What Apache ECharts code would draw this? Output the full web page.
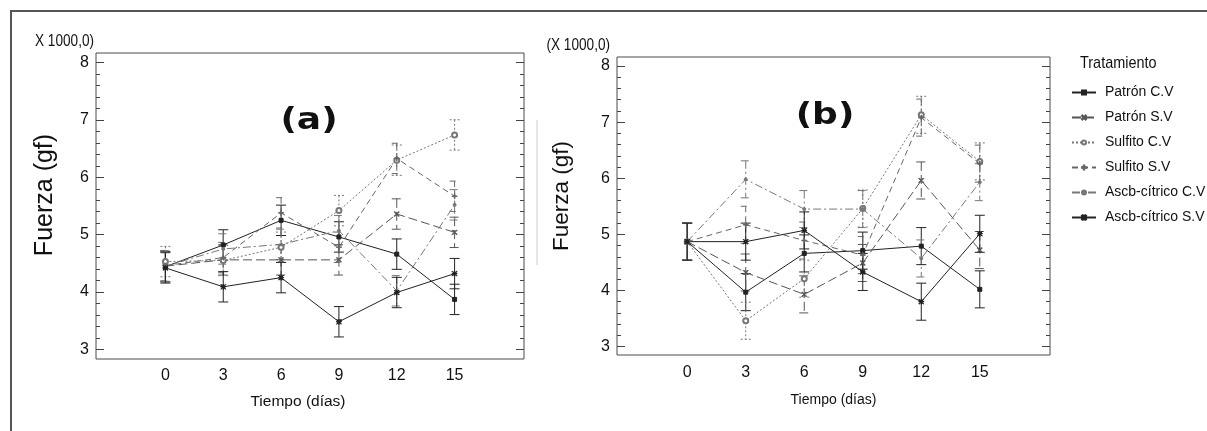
<!DOCTYPE html>
<html>
<head>
<meta charset="utf-8">
<script src="https://cdn.jsdelivr.net/npm/echarts@6/dist/echarts.min.js"></script>
<style>
  html, body { margin: 0; padding: 0; background: #fff; }
  #chart { width: 1207px; height: 431px; }
</style>
</head>
<body>
<div id="chart"></div>
<script>
const days = [0, 3, 6, 9, 12, 15]
const dayLabels = [0, 3, 6, 9, 12, 15]
const forceLabels = [3, 4, 5, 6, 7, 8]
const treatments = ['Patrón C.V', 'Patrón S.V', 'Sulfito C.V', 'Sulfito S.V', 'Ascb-cítrico C.V', 'Ascb-cítrico S.V']

// panel (a), fuerza x 1000 gf
const aPatronCV = [4.44, 4.82, 5.25, 4.96, 4.66, 3.87]
const aPatronSV = [4.45, 4.56, 4.56, 4.56, 5.36, 5.04]
const aSulfitoCV = [4.53, 4.55, 4.78, 5.42, 6.30, 6.74]
const aSulfitoSV = [4.46, 4.60, 5.38, 4.78, 6.33, 5.67]
const aAscbCV = [4.45, 4.75, 4.83, 5.07, 4.02, 5.52]
const aAscbSV = [4.42, 4.09, 4.25, 3.48, 3.99, 4.32]
const aHalfLsd = 0.265

// panel (b)
const bPatronCV = [4.87, 3.97, 4.66, 4.71, 4.79, 4.02]
const bPatronSV = [4.87, 4.32, 3.93, 4.49, 5.96, 4.72]
const bSulfitoCV = [4.87, 3.46, 4.21, 5.46, 7.13, 6.30]
const bSulfitoSV = [4.87, 5.17, 4.89, 4.63, 7.08, 6.26]
const bAscbCV = [4.87, 5.98, 5.45, 5.45, 4.57, 5.93]
const bAscbSV = [4.87, 4.87, 5.07, 4.33, 3.80, 5.01]
const bHalfLsd = 0.33

const panels = [
  { values: [aPatronCV, aPatronSV, aSulfitoCV, aSulfitoSV, aAscbCV, aAscbSV], half: aHalfLsd, yMin: 2.83, yMax: 8.17 },
  { values: [bPatronCV, bPatronSV, bSulfitoCV, bSulfitoSV, bAscbCV, bAscbSV], half: bHalfLsd, yMin: 2.85, yMax: 8.16 }
]

// minor ticks every 0.2
const minorTicks = []
for (let v = 30; v <= 80; v += 2) minorTicks.push(v / 10)

const sans = "'Liberation Sans', Arial, sans-serif"
const crossPath = 'path://M0,1L1,0L5,4L9,0L10,1L6,5L10,9L9,10L5,6L1,10L0,9L4,5Z'
const plusPath = 'path://M4.4,0H5.6V4.4H10V5.6H5.6V10H4.4V5.6H0V4.4H4.4Z'
const starPath = 'path://M4.5,0H5.5V10H4.5Z M0,4.5H10V5.5H0Z M0.7,0L10,9.3L9.3,10L0,0.7Z M9.3,0L10,0.7L0.7,10L0,9.3Z'

const looks = [
  { color: '#222', type: 'solid', symbol: 'rect', size: 4 },
  { color: '#555', type: [9, 4], symbol: crossPath, size: 5 },
  { color: '#777', type: [2, 2], symbol: 'emptyCircle', size: 5 },
  { color: '#666', type: [6, 4], symbol: plusPath, size: 5 },
  { color: '#777', type: [8, 3, 2, 3], symbol: 'circle', size: 3 },
  { color: '#222', type: 'solid', symbol: starPath, size: 5 }
]

function errorBar (look) {
  return function (params, api) {
    const x = api.value(0)
    const y = api.value(1)
    const h = api.value(2)
    const top = api.coord([x, y + h])
    const bot = api.coord([x, y - h])
    const w = 5
    const style = {
      stroke: look.color,
      lineWidth: 1,
      lineDash: Array.isArray(look.type) ? look.type : null,
      fill: null
    }
    return {
      type: 'group',
      children: [
        { type: 'line', shape: { x1: top[0], y1: top[1], x2: bot[0], y2: bot[1] }, style: style },
        { type: 'line', shape: { x1: top[0] - w, y1: top[1], x2: top[0] + w, y2: top[1] }, style: style },
        { type: 'line', shape: { x1: bot[0] - w, y1: bot[1], x2: bot[0] + w, y2: bot[1] }, style: style }
      ]
    }
  }
}

const grids = [
  { left: 96, top: 53, width: 428, height: 306 },
  { left: 617, top: 57, width: 433, height: 298 }
]
const xAxes = []
const yAxes = []
const series = []

panels.forEach((panel, p) => {
  grids[p].show = true
  grids[p].borderColor = '#4a4a4a'
  grids[p].borderWidth = 1

  xAxes.push({
    type: 'value',
    gridIndex: p,
    min: -3.6,
    max: 18.6,
    axisLine: { show: false, onZero: false },
    axisTick: { show: false },
    splitLine: { show: false },
    axisLabel: { customValues: dayLabels, margin: p === 0 ? 9 : 10, fontFamily: sans, fontSize: 16, color: '#111' },
    name: 'Tiempo (días)',
    nameLocation: 'middle',
    nameGap: p === 0 ? 35 : 38,
    nameTextStyle: {
      fontFamily: sans,
      fontSize: p === 0 ? 15.5 : 14,
      color: '#111',
      padding: p === 0 ? [0, 24, 0, 0] : 0
    }
  })

  const base = {
    type: 'value',
    gridIndex: p,
    min: panel.yMin,
    max: panel.yMax,
    axisLine: { show: false, onZero: false },
    splitLine: { show: false }
  }
  yAxes.push(Object.assign({}, base, {
    position: 'left',
    axisTick: { inside: true, length: 8, customValues: forceLabels, lineStyle: { color: '#444' } },
    axisLabel: { customValues: forceLabels, margin: 7, fontFamily: sans, fontSize: 16, color: '#111' },
    name: 'Fuerza (gf)',
    nameLocation: 'middle',
    nameRotate: 90,
    nameGap: p === 0 ? 38 : 44,
    nameTextStyle: {
      fontFamily: sans,
      fontSize: p === 0 ? 25 : 22.5,
      color: '#111',
      padding: p === 0 ? [0, 0, 0, 22] : [0, 0, 0, 20]
    }
  }))
  yAxes.push(Object.assign({}, base, {
    position: 'right',
    axisTick: { inside: true, length: 8, customValues: forceLabels, lineStyle: { color: '#444' } },
    axisLabel: { show: false }
  }))
  yAxes.push(Object.assign({}, base, {
    position: 'left',
    axisTick: { inside: true, length: 4, customValues: minorTicks, lineStyle: { color: '#444' } },
    axisLabel: { show: false }
  }))
  yAxes.push(Object.assign({}, base, {
    position: 'right',
    axisTick: { inside: true, length: 4, customValues: minorTicks, lineStyle: { color: '#444' } },
    axisLabel: { show: false }
  }))

  panel.values.forEach((vals, i) => {
    const look = looks[i]
    series.push({
      type: 'custom',
      name: treatments[i] + ' LSD',
      xAxisIndex: p,
      yAxisIndex: p * 4,
      renderItem: errorBar(look),
      encode: { x: 0, y: 1 },
      data: days.map((d, j) => [d, vals[j], panel.half]),
      z: 2
    })
    series.push({
      type: 'line',
      name: treatments[i],
      xAxisIndex: p,
      yAxisIndex: p * 4,
      data: days.map((d, j) => [d, vals[j]]),
      symbol: look.symbol,
      symbolSize: look.size,
      lineStyle: { color: look.color, width: 1, type: look.type },
      itemStyle: { color: look.color, borderColor: look.color, borderWidth: 1 },
      z: 3
    })
  })
})

const chart = echarts.init(document.getElementById('chart'))
chart.setOption({
  animation: false,
  backgroundColor: '#fff',
  grid: grids,
  xAxis: xAxes,
  yAxis: yAxes,
  series: series,
  legend: {
    data: treatments,
    orient: 'vertical',
    left: 1066,
    top: 79,
    itemWidth: 24,
    itemHeight: 5,
    itemGap: 8,
    textStyle: { fontFamily: sans, fontSize: 14, lineHeight: 17, color: '#111', padding: [0, 0, 0, 4] }
  },
  graphic: [
    { type: 'polyline', shape: { points: [[11, 431], [11, 11], [1207, 11]] }, style: { stroke: '#555', lineWidth: 2, fill: null } },
    { type: 'line', shape: { x1: 537, y1: 120, x2: 537, y2: 265 }, style: { stroke: '#ddd', lineWidth: 1.5 } },
    { type: 'text', x: 94, y: 42, scaleX: 0.85, style: { text: 'X 1000,0)', align: 'right', verticalAlign: 'middle', fontFamily: sans, fontSize: 16, fill: '#111' } },
    { type: 'text', x: 610, y: 46, scaleX: 0.85, style: { text: '(X 1000,0)', align: 'right', verticalAlign: 'middle', fontFamily: sans, fontSize: 16, fill: '#111' } },
    { type: 'text', x: 309, y: 121, scaleX: 1.2, style: { text: '(a)', align: 'center', verticalAlign: 'middle', fontFamily: 'DejaVu Sans', fontWeight: 'bold', fontSize: 30, fill: '#111' } },
    { type: 'text', x: 825, y: 116, scaleX: 1.2, style: { text: '(b)', align: 'center', verticalAlign: 'middle', fontFamily: 'DejaVu Sans', fontWeight: 'bold', fontSize: 30, fill: '#111' } },
    { type: 'text', x: 1080, y: 63, scaleX: 0.85, style: { text: 'Tratamiento', align: 'left', verticalAlign: 'middle', fontFamily: sans, fontSize: 17, fill: '#111' } }
  ]
})
</script>
</body>
</html>
